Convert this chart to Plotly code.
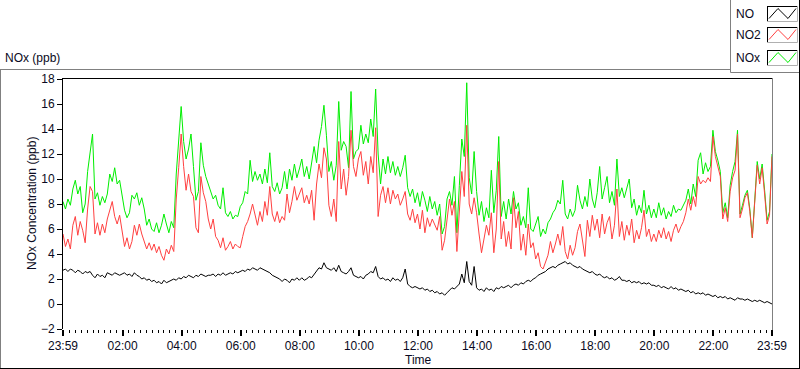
import pandas as pd
import plotly.graph_objects as go

# ---------------- data (5-minute readings, 23:59 -> 23:59 next day) ----------------
start_time = "2000-01-01 23:59"
n_points = 289

nox = [
    8.2, 7.6, 8.4, 7.9, 9.2, 9.9, 8.8, 9.4, 7.3, 8.0, 10.6, 12.1,
    13.6, 8.4, 8.9, 7.9, 8.6, 8.1, 8.8, 10.4, 9.8, 10.9, 9.6, 9.9,
    8.8, 7.5, 6.9, 7.3, 8.7, 8.4, 8.9, 7.9, 8.5, 7.6, 6.3, 6.8,
    6.0, 5.8, 6.5, 5.7, 6.3, 7.2, 6.4, 5.7, 6.6, 6.1, 10.4, 13.1,
    15.8, 13.0, 11.6, 12.4, 13.6, 11.0, 8.3, 9.0, 12.9, 11.1, 10.2, 9.6,
    9.0, 8.4, 8.7, 7.9, 7.6, 9.3, 7.3, 7.0, 7.4, 6.8, 7.1, 7.0,
    7.8, 8.1, 9.0, 8.8, 11.5, 9.8, 10.6, 9.9, 10.4, 9.6, 10.8, 9.7,
    12.1, 9.4, 9.0, 9.7, 8.8, 9.3, 10.6, 9.2, 10.8, 9.9, 11.2, 10.1,
    10.8, 11.6, 10.2, 11.0, 10.0, 11.4, 12.6, 11.3, 13.1, 14.2, 15.9, 13.5,
    10.6, 11.4, 9.9, 11.1, 16.2, 12.3, 13.0, 12.6, 10.9, 17.0, 11.6, 12.2,
    12.4, 14.3, 12.8, 13.6, 12.9, 14.8, 13.4, 17.2, 12.0, 9.6, 11.6, 10.4,
    11.8, 10.5, 11.4, 10.3, 11.0, 10.2, 10.9, 11.9, 9.3, 8.6, 9.2, 8.1,
    8.9, 7.8, 9.0, 8.3, 7.4, 8.6, 7.6, 8.2, 7.1, 8.0, 5.6, 6.2,
    8.4, 9.0, 7.9, 10.2, 5.7, 9.5, 13.2, 11.8, 17.7, 10.1, 8.8, 12.2,
    9.0, 7.1, 8.2, 6.6, 7.7, 6.9, 10.7, 7.3, 9.1, 13.4, 7.0, 8.2,
    6.8, 8.4, 7.2, 9.0, 7.6, 8.1, 6.3, 7.0, 6.1, 9.3, 6.0, 5.8,
    6.4, 7.0, 5.4, 6.0, 5.6, 6.5, 6.8, 7.3, 7.6, 8.3, 8.0, 9.9,
    7.2, 6.8, 7.6, 7.0, 7.5, 9.5, 8.3, 7.6, 8.6, 7.8, 10.0, 8.4,
    7.7, 8.9, 11.0, 8.4, 9.3, 10.2, 8.1, 9.0, 7.9, 11.6, 8.6, 9.3,
    8.5, 9.2, 10.0, 7.7, 8.4, 7.1, 7.9, 7.3, 9.1, 7.2, 7.9, 6.9,
    7.6, 6.9, 8.1, 7.1, 7.7, 6.8, 7.4, 7.0, 7.9, 7.3, 7.6, 7.5,
    7.9, 8.3, 9.2, 8.0, 9.6, 8.6, 11.5, 12.1, 10.4, 11.3, 10.6, 11.0,
    13.9, 12.2, 11.5, 10.6, 7.3, 8.1, 6.9, 9.5, 10.6, 11.4, 13.9, 7.2,
    7.9, 8.7, 9.1, 7.6, 5.3, 8.4, 11.4, 10.0, 11.2, 9.1, 6.7, 7.4, 12.0,
]

no2 = [
    5.6, 4.6, 5.2, 4.4, 6.3, 7.0, 5.5, 6.6, 5.9, 4.9, 7.6, 9.4,
    9.0, 5.6, 6.5, 5.5, 6.4, 5.7, 6.8, 7.5, 8.2, 7.0, 6.4, 7.1,
    5.8, 4.6, 5.3, 4.4, 5.0, 6.3, 5.5, 6.4, 5.6, 5.0, 4.4, 4.9,
    4.3, 4.8, 4.1, 4.6, 3.9, 3.5, 4.4, 4.0, 4.7, 4.2, 8.4, 10.9,
    13.6, 11.0, 9.1, 10.4, 9.0, 8.6, 6.1, 5.7, 10.2, 8.9, 8.2, 6.8,
    6.0, 6.8, 5.4, 5.1, 4.5, 5.3, 4.3, 4.6, 5.0, 4.4, 4.8, 4.6,
    4.5, 5.4, 6.2, 6.6, 7.2, 8.0, 7.0, 6.3, 7.4, 6.6, 8.2, 7.1,
    9.4, 7.2, 6.6, 7.4, 6.5, 7.0, 6.7, 8.8, 7.3, 8.2, 9.4, 8.3,
    8.8, 9.3, 8.1, 8.7, 8.0, 9.1, 6.7, 9.6, 11.2, 10.1, 12.5, 11.6,
    7.9, 7.0, 8.4, 6.6, 13.0, 9.2, 10.8, 8.7, 10.2, 13.9, 11.0, 10.2,
    11.6, 12.2, 10.3, 11.4, 9.6, 11.8, 10.5, 14.1, 7.0, 8.7, 9.4, 8.1,
    9.3, 8.0, 9.1, 8.4, 8.8, 7.9, 8.4, 9.0, 7.2, 6.7, 7.6, 6.5,
    7.2, 6.0, 7.5, 5.7, 6.9, 6.2, 6.8, 6.4, 5.9, 7.0, 4.3, 5.1,
    6.8, 8.4, 7.1, 8.2, 4.2, 7.4, 10.6, 8.6, 14.3, 8.0, 7.2, 8.5,
    7.3, 5.6, 4.1, 5.2, 6.3, 5.5, 7.3, 4.1, 6.0, 11.4, 5.2, 6.6,
    4.6, 5.8, 4.4, 8.5, 6.1, 7.4, 4.3, 5.6, 3.9, 6.4, 4.5, 4.9,
    3.6, 4.1, 3.0, 2.8, 3.4, 3.9, 5.0, 4.1, 4.8, 5.6, 4.7, 6.2,
    4.2, 3.6, 4.7, 3.9, 4.5, 5.8, 6.4, 5.2, 3.8, 6.7, 5.4, 7.1,
    5.9, 6.8, 5.3, 7.2, 5.6, 6.5, 7.0, 5.2, 6.3, 9.2, 5.4, 6.6,
    5.1, 6.3, 5.5, 6.8, 4.9, 5.9, 5.2, 6.1, 7.5, 5.4, 6.0, 5.0,
    5.6, 5.0, 5.9, 5.3, 6.1, 5.2, 5.8, 5.0, 5.9, 6.4, 5.7, 6.2,
    6.6, 7.3, 8.4, 7.5, 8.6, 7.8, 10.2, 9.6, 9.9, 9.7, 10.1, 9.8,
    13.4, 11.8, 10.9, 10.2, 6.8, 7.7, 6.6, 9.0, 10.1, 10.7, 13.6, 6.9,
    7.6, 8.5, 8.9, 7.4, 5.3, 8.1, 11.1, 9.6, 10.9, 8.8, 6.4, 7.1, 11.8,
]

no = [
    2.7, 2.8, 2.6, 2.8, 2.7, 2.5, 2.7, 2.6, 2.4, 2.6, 2.5, 2.6,
    2.3, 2.1, 2.4, 2.2, 2.3, 2.1, 2.5, 2.4, 2.3, 2.5, 2.4, 2.3,
    2.4, 2.5, 2.3, 2.4, 2.2, 2.5, 2.3, 2.2, 2.0, 2.1, 1.9, 2.0,
    1.8, 1.9, 1.7, 1.8, 1.6, 1.9, 1.7, 1.8, 1.9, 2.0, 1.9, 2.1,
    2.0, 2.2, 2.1, 2.3, 2.2, 2.1, 2.3, 2.2, 2.4, 2.3, 2.2, 2.3,
    2.3, 2.4, 2.2, 2.4, 2.3, 2.5, 2.3, 2.4, 2.5, 2.4, 2.6, 2.5,
    2.6, 2.7, 2.6, 2.8, 2.7, 2.9, 2.8, 2.7, 2.9, 2.8, 2.7, 2.6,
    2.5, 2.3, 2.2, 2.1, 2.0, 1.8, 2.0, 1.9, 1.7, 2.0, 1.9, 2.1,
    1.9, 2.1, 1.9, 2.0, 2.2, 2.1, 2.4, 2.6, 2.9, 2.8, 3.3, 2.9,
    2.8, 2.7, 2.9, 2.6, 3.1, 2.6, 2.5, 2.4, 2.6, 2.9, 2.3, 2.2,
    2.1, 2.2, 2.0, 2.3, 2.4, 2.6, 2.5, 3.0, 2.2, 2.0, 2.1, 1.9,
    2.0, 1.8, 2.1, 1.9, 2.0, 1.8, 2.1, 2.8, 1.6, 1.4, 1.3, 1.4,
    1.3, 1.2, 1.3, 1.1, 1.2, 1.0, 1.1, 0.9, 1.0, 0.8, 0.9, 0.7,
    0.9, 1.1, 1.3, 1.2, 1.4, 1.6, 2.4, 1.7, 3.4, 1.8, 1.5, 3.0,
    1.3, 1.1, 1.2, 1.0, 1.3, 1.1, 1.2, 1.0, 1.3, 1.2, 1.4, 1.3,
    1.4, 1.5, 1.3, 1.5, 1.6, 1.5, 1.7, 1.6, 1.8, 1.9, 1.8, 2.0,
    2.1, 2.3, 2.4, 2.5, 2.6, 2.8, 2.9, 3.0, 2.9, 3.1, 3.2, 3.3,
    3.4, 3.2, 3.3, 3.1, 3.0, 2.9, 3.0, 2.8, 2.7, 2.6, 2.5, 2.6,
    2.4, 2.3, 2.4, 2.2, 2.1, 2.2, 2.0, 2.1, 1.9, 2.0, 2.2, 1.9,
    1.9, 1.8, 1.9, 1.7, 1.8, 1.7, 1.8, 1.6, 1.7, 1.6, 1.7, 1.5,
    1.5, 1.4, 1.5, 1.3, 1.4, 1.3, 1.2, 1.4, 1.2, 1.3, 1.1, 1.2,
    1.1, 1.0, 1.1, 0.9, 1.0, 0.8, 0.9, 0.8, 0.9, 0.7, 0.8, 0.7,
    0.6, 0.7, 0.5, 0.6, 0.5, 0.6, 0.4, 0.5, 0.4, 0.3, 0.5, 0.4,
    0.4, 0.3, 0.4, 0.3, 0.2, 0.3, 0.2, 0.3, 0.2, 0.1, 0.2, 0.1, 0.0,
]

tick_times = ["2000-01-01 23:59", "2000-01-02 02:00", "2000-01-02 04:00",
              "2000-01-02 06:00", "2000-01-02 08:00", "2000-01-02 10:00",
              "2000-01-02 12:00", "2000-01-02 14:00", "2000-01-02 16:00",
              "2000-01-02 18:00", "2000-01-02 20:00", "2000-01-02 22:00",
              "2000-01-02 23:59"]
tick_labels = ["23:59", "02:00", "04:00", "06:00", "08:00", "10:00", "12:00",
               "14:00", "16:00", "18:00", "20:00", "22:00", "23:59"]
y_ticks = [-2, 0, 2, 4, 6, 8, 10, 12, 14, 16, 18]

series_names = ["NO", "NO2", "NOx"]
series_colors = {"NO": "#000000", "NO2": "#ff4040", "NOx": "#00ee00"}

assert len(nox) == len(no2) == len(no) == n_points

times = pd.date_range(start_time, periods=n_points, freq="5min")

# ---------------- figure ----------------
W, H = 800, 369
L, R, T, B = 63, 772, 79, 329   # plot area in pixels
FONT = "Liberation Sans"
TXT = "#0a0a22"


def px(x):
    return (x - L) / (R - L)


def py(y):
    return (B - y) / (B - T)


fig = go.Figure()
for name, vals in [("NOx", nox), ("NO2", no2), ("NO", no)]:
    fig.add_trace(go.Scatter(x=times, y=vals, mode="lines", name=name,
                             line=dict(color=series_colors[name], width=1),
                             showlegend=False, hoverinfo="skip"))

fig.update_layout(
    width=W, height=H, autosize=False,
    margin=dict(l=L, r=W - R, t=T, b=H - B, pad=0),
    paper_bgcolor="white", plot_bgcolor="white",
    font=dict(family=FONT, size=12, color=TXT),
    showlegend=False,
)

fig.update_xaxes(
    type="date",
    range=[tick_times[0], tick_times[-1]],
    tickmode="array", tickvals=tick_times, ticktext=tick_labels,
    ticks="outside", ticklen=6, tickwidth=2, tickcolor="black",
    showgrid=False, zeroline=False, showline=False,
    tickfont=dict(family=FONT, size=12, color=TXT),
    minor=dict(tickmode="linear", tick0="2000-01-02 00:00", dtick=12 * 60 * 1000,
               ticks="outside", ticklen=3, tickwidth=1, tickcolor="black",
               showgrid=False),
)
fig.update_yaxes(
    range=[-2, 18],
    tickmode="array", tickvals=y_ticks,
    ticks="outside", ticklen=5, tickwidth=1, tickcolor="black",
    showgrid=False, zeroline=False,
    showline=True, linecolor="black", linewidth=1,
    tickfont=dict(family=FONT, size=12, color=TXT),
)

shapes = []


def hline(y, x0, x1, color):
    shapes.append(dict(type="line", xref="paper", yref="paper",
                       x0=px(x0), x1=px(x1), y0=py(y), y1=py(y),
                       line=dict(color=color, width=1)))


def vline(x, y0, y1, color):
    shapes.append(dict(type="line", xref="paper", yref="paper",
                       x0=px(x), x1=px(x), y0=py(y0), y1=py(y1),
                       line=dict(color=color, width=1)))


# outer frame
hline(69.5, 0, 730.5, "#808080")
vline(0.5, 69.5, 368.5, "#808080")
hline(368.5, 0, 800, "#000000")
vline(799.5, 0, 368.5, "#000000")
# legend box
vline(730.5, 0, 72.5, "#808080")
hline(72.5, 730.5, 799, "#808080")
# plot area frame (top and right)
hline(78.5, 62, 772.5, "#000000")
vline(772.5, 78.5, 330, "#808080")

annotations = []
# legend entries
row_tops = [6, 27, 50]
for name, top in zip(series_names, row_tops):
    x0, x1 = 767, 797
    y0, y1 = top, top + 15
    hline(y0 + 0.5, x0, x1, "#000000")
    vline(x0 + 0.5, y0, y1, "#000000")
    hline(y1 + 0.5, x0, x1 + 0.5, "#b0b0b0")
    vline(x1 + 0.5, y0, y1 + 0.5, "#b0b0b0")
    pts = [(769, y0 + 12.5), (778, y0 + 2.5), (788, y0 + 12.5), (796, y0 + 2.5)]
    path = "M " + " L ".join(f"{px(a):.5f},{py(b):.5f}" for a, b in pts)
    shapes.append(dict(type="path", xref="paper", yref="paper", path=path,
                       line=dict(color=series_colors[name], width=1)))
    annotations.append(dict(text=name, xref="paper", yref="paper",
                            x=px(734), y=py(y0 + 8), xanchor="left", yanchor="middle",
                            showarrow=False, font=dict(family=FONT, size=12, color=TXT)))

annotations.append(dict(text="NOx (ppb)", xref="paper", yref="paper",
                        x=px(3), y=py(58.5), xanchor="left", yanchor="middle",
                        showarrow=False, font=dict(family=FONT, size=12, color=TXT)))
annotations.append(dict(text="NOx Concentration (ppb)", xref="paper", yref="paper",
                        x=px(32), y=py(204), xanchor="center", yanchor="middle",
                        textangle=-90, showarrow=False,
                        font=dict(family=FONT, size=12, color=TXT)))
annotations.append(dict(text="Time", xref="paper", yref="paper",
                        x=px(403), y=py(360), xanchor="left", yanchor="middle",
                        showarrow=False, font=dict(family=FONT, size=12, color=TXT)))

fig.update_layout(shapes=shapes, annotations=annotations)
fig.write_html(
    "out.html",
    config={"displayModeBar": False, "staticPlot": True},
    post_script="document.body.style.margin='0';document.body.style.padding='0';"
                "document.body.style.overflow='hidden';",
)
